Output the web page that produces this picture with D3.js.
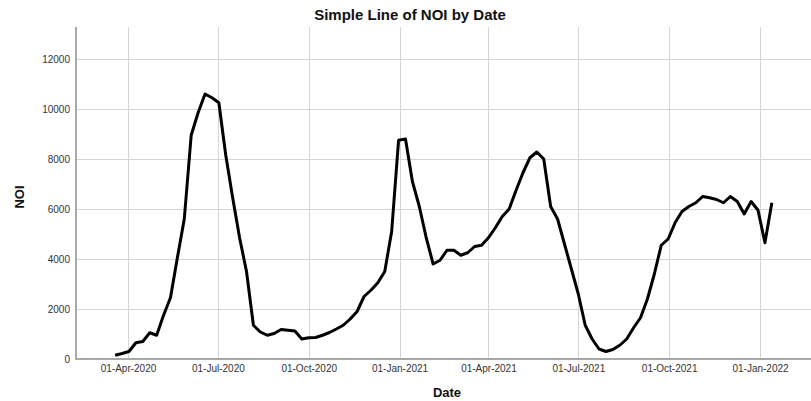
<!DOCTYPE html>
<html>
<head>
<meta charset="utf-8">
<script src="https://cdn.jsdelivr.net/npm/d3@7/dist/d3.min.js"></script>
<style>
  html, body { margin: 0; padding: 0; background: #fff; }
  svg { display: block; font-family: "Liberation Sans", Arial, sans-serif; }
</style>
</head>
<body>
<svg id="chart" width="811" height="401"></svg>
<script>
// ---- Data ----
const startDate = "2020-03-19";   // first weekly observation (Thursday)
const noiValues = [
  150, 220, 300, 650, 700, 1050, 950, 1750, 2450, 4050,
  5600, 8950, 9850, 10600, 10450, 10250, 8150, 6450, 4850, 3500,
  1350, 1080, 950, 1020, 1180, 1150, 1120, 800, 850, 860,
  950, 1060, 1200, 1350, 1600, 1900, 2500, 2750, 3050, 3500,
  5100, 8750, 8800, 7100, 6100, 4850, 3800, 3950, 4350, 4350,
  4150, 4250, 4500, 4550, 4850, 5250, 5700, 6000, 6750, 7450,
  8050, 8280, 8000, 6100, 5600, 4600, 3600, 2600, 1350, 800,
  400, 300, 380, 550, 800, 1250, 1650, 2400, 3400, 4550,
  4800, 5450, 5900, 6100, 6250, 6500, 6450, 6380, 6250, 6500,
  6300, 5800, 6300, 5950, 4650, 6250
];
const yTicks = [0, 2000, 4000, 6000, 8000, 10000, 12000];
const xTickDates = ["2020-04-01", "2020-07-01", "2020-10-01", "2021-01-01",
                    "2021-04-01", "2021-07-01", "2021-10-01", "2022-01-01"];
const titleText = "Simple Line of NOI by Date";
const xTitle = "Date";
const yTitle = "NOI";

// ---- Build dates ----
const parse = d3.utcParse("%Y-%m-%d");
const t0 = parse(startDate);
const data = noiValues.map((v, i) => ({ date: d3.utcDay.offset(t0, 7 * i), value: v }));
const tickDates = xTickDates.map(parse);

// ---- Layout ----
const svg = d3.select("#chart");
const plotLeft = 76, plotRight = 811, plotTop = 27, plotBottom = 359;

const x = d3.scaleUtc()
  .domain([tickDates[0], tickDates[tickDates.length - 1]])
  .range([128, 760]);
const y = d3.scaleLinear()
  .domain([0, 13280])
  .range([plotBottom, plotTop]);

// gridlines
const grid = svg.append("g");
grid.selectAll("line.h").data(yTicks.filter(d => d > 0)).enter().append("line")
  .attr("x1", plotLeft).attr("x2", plotRight)
  .attr("y1", d => Math.round(y(d)) + 0.5).attr("y2", d => Math.round(y(d)) + 0.5)
  .attr("stroke", "#d4d4d4").attr("stroke-width", 1);
grid.selectAll("line.v").data(tickDates).enter().append("line")
  .attr("y1", plotTop).attr("y2", plotBottom)
  .attr("x1", d => Math.round(x(d)) + 0.5).attr("x2", d => Math.round(x(d)) + 0.5)
  .attr("stroke", "#d4d4d4").attr("stroke-width", 1);

// axes
const yAxis = d3.axisLeft(y).tickValues(yTicks).tickSize(0).tickPadding(6).tickFormat(d3.format("d"));
const gy = svg.append("g").attr("transform", `translate(${plotLeft},0)`).call(yAxis);
gy.select(".domain").remove();
gy.selectAll("text").attr("font-size", 10).attr("fill", "#333")
  .attr("font-family", "'Liberation Sans', Arial, sans-serif");

const xAxis = d3.axisBottom(x).tickValues(tickDates).tickSize(0).tickPadding(6)
  .tickFormat(d3.utcFormat("%d-%b-%Y"));
const gx = svg.append("g").attr("transform", `translate(0,${plotBottom})`).call(xAxis);
gx.select(".domain").remove();
gx.selectAll("text").attr("font-size", 10).attr("fill", "#333")
  .attr("font-family", "'Liberation Sans', Arial, sans-serif");

// axis lines
svg.append("line").attr("x1", plotLeft).attr("x2", plotLeft)
  .attr("y1", plotTop).attr("y2", plotBottom + 1)
  .attr("stroke", "#a8a8a8").attr("stroke-width", 2);
svg.append("line").attr("x1", plotLeft).attr("x2", plotRight)
  .attr("y1", plotBottom).attr("y2", plotBottom)
  .attr("stroke", "#a8a8a8").attr("stroke-width", 2);

// line
const line = d3.line().x(d => x(d.date)).y(d => y(d.value));
svg.append("path").datum(data)
  .attr("d", line)
  .attr("fill", "none")
  .attr("stroke", "#000")
  .attr("stroke-width", 3)
  .attr("stroke-linejoin", "round");

// titles
svg.append("text").attr("x", 410).attr("y", 20).attr("text-anchor", "middle")
  .attr("font-size", 15).attr("font-weight", "bold").attr("fill", "#111").text(titleText);
svg.append("text").attr("x", 447).attr("y", 397).attr("text-anchor", "middle")
  .attr("font-size", 13).attr("font-weight", "bold").attr("fill", "#111").text(xTitle);
svg.append("text").attr("transform", "translate(24,197) rotate(-90)").attr("text-anchor", "middle")
  .attr("font-size", 13).attr("font-weight", "bold").attr("fill", "#111").text(yTitle);
</script>
</body>
</html>
